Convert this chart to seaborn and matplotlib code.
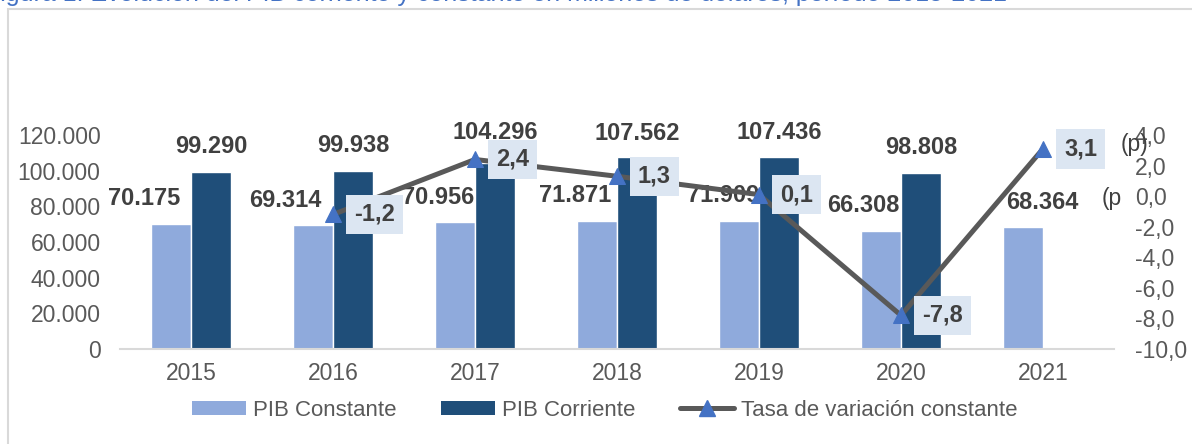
import numpy as np
import pandas as pd
import matplotlib
matplotlib.use("Agg")
import matplotlib.pyplot as plt
import seaborn as sns
from matplotlib.lines import Line2D
from matplotlib.patches import Patch, Rectangle
from matplotlib.ticker import FuncFormatter, MultipleLocator

# datos (millones de dólares / %)
years = ["2015", "2016", "2017", "2018", "2019", "2020", "2021"]
pib_constante = [70175, 69314, 70956, 71871, 71909, 66308, 68364]
pib_corriente = [99290, 99938, 104296, 107562, 107436, 98808, np.nan]
tasa = [np.nan, -1.2, 2.4, 1.3, 0.1, -7.8, 3.1]

C_CONST = "#8faadc"
C_CORR = "#1f4e79"
C_LINE = "#595959"
C_MARK = "#4472c4"
C_TXT = "#404040"
C_TICK = "#595959"

sns.set_theme(style="white")
plt.rcParams["font.family"] = ["Liberation Sans", "DejaVu Sans"]

df = pd.DataFrame({
    "year": years * 2,
    "valor": pib_constante + pib_corriente,
    "serie": ["PIB Constante"] * len(years) + ["PIB Corriente"] * len(years),
})

fig = plt.figure(figsize=(11.92, 4.44), dpi=100)
ax = fig.add_axes([120 / 1192, 1 - 349 / 444, (1114 - 120) / 1192, (349 - 135) / 444])

sns.barplot(data=df, x="year", y="valor", hue="serie",
            palette={"PIB Constante": C_CONST, "PIB Corriente": C_CORR},
            width=0.57, gap=0, saturation=1, legend=False, ax=ax)

ax.set_ylim(0, 120000)
ax.set_xlim(-0.5, len(years) - 0.5)
ax.yaxis.set_major_locator(MultipleLocator(20000))
ax.yaxis.set_major_formatter(FuncFormatter(lambda v, p: f"{int(v):,}".replace(",", ".")))
ax.set_xlabel("")
ax.set_ylabel("")
for s in ["top", "right", "left"]:
    ax.spines[s].set_visible(False)
ax.spines["bottom"].set_color("#d9d9d9")
ax.spines["bottom"].set_linewidth(1.5)
ax.tick_params(axis="y", length=0, pad=14, labelsize=16.5, labelcolor=C_TICK)
ax.tick_params(axis="x", length=0, pad=9, labelsize=16.5, labelcolor=C_TICK)

# etiquetas de barras (desplazamientos en píxeles, como en el original)
const_dx = [-27, -27, -17, -22, -16, -17, 20]
corr_dy = [25, 25, 31, 24, 25, 25, 25]
for i, bar in enumerate(ax.containers[0]):
    h = bar.get_height()
    ax.annotate(f"{int(h):,}".replace(",", "."),
                (bar.get_x() + bar.get_width() / 2, h),
                xytext=(const_dx[i], 25), textcoords="offset pixels",
                ha="center", va="center", fontsize=17, fontweight="bold", color=C_TXT)
for i, bar in enumerate(ax.containers[1]):
    h = bar.get_height()
    if np.isnan(h):
        continue
    ax.annotate(f"{int(h):,}".replace(",", "."),
                (bar.get_x() + bar.get_width() / 2, h),
                xytext=(0, corr_dy[i]), textcoords="offset pixels",
                ha="center", va="center", fontsize=17, fontweight="bold", color=C_TXT)

last = ax.containers[0][-1]
ax.annotate("(p", (last.get_x() + last.get_width() / 2, last.get_height()),
            xytext=(79, 29), textcoords="offset pixels", ha="left", va="center",
            fontsize=16.5, color=C_TXT, annotation_clip=False)

# eje secundario: tasa
ax2 = ax.twinx()
pos = list(range(len(years)))
sns.lineplot(x=pos, y=tasa, ax=ax2, color=C_LINE, linewidth=3.6,
             marker="^", markersize=12, markerfacecolor=C_MARK,
             markeredgecolor=C_MARK, legend=False)
ax2.set_ylim(-10, 4)
ax2.yaxis.set_major_locator(MultipleLocator(2))
ax2.yaxis.set_major_formatter(FuncFormatter(lambda v, p: f"{v:.1f}".replace(".", ",")))
for s in ["top", "right", "left", "bottom"]:
    ax2.spines[s].set_visible(False)
ax2.tick_params(axis="y", length=0, pad=15, labelsize=16.5, labelcolor=C_TICK)
ax2.set_xlim(-0.5, len(years) - 0.5)

for x, v in zip(pos, tasa):
    if np.isnan(v):
        continue
    ax2.annotate(f"{v:.1f}".replace(".", ","), (x, v),
                 xytext=(21, 0), textcoords="offset pixels",
                 ha="left", va="center", fontsize=17, fontweight="bold", color=C_TXT,
                 bbox=dict(boxstyle="square,pad=0.35", fc="#dce6f2", ec="none"),
                 annotation_clip=False)
ax2.annotate("(p)", (pos[-1], tasa[-1]), xytext=(78, 4), textcoords="offset pixels",
             ha="left", va="center", fontsize=16.5, color=C_TXT, annotation_clip=False)

# leyenda
handles = [
    Patch(facecolor=C_CONST, edgecolor="none"),
    Patch(facecolor=C_CORR, edgecolor="none"),
    Line2D([0], [0], color=C_LINE, lw=3.6, marker="^", markersize=12,
           markerfacecolor=C_MARK, markeredgecolor=C_MARK),
]
labels = ["PIB Constante", "PIB Corriente", "Tasa de variación constante"]
fig.legend(handles, labels, loc="center", bbox_to_anchor=(605 / 1192, 1 - 410 / 444),
           ncol=3, frameon=False, fontsize=16, handlelength=2.4, handleheight=0.6,
           handletextpad=0.35, columnspacing=2.0, labelcolor=C_TICK)

# título (recortado por el borde superior, como en el original) y marco
fig.text(-0.013, 1 - 1 / 444,
         "Figura 1. Evolución del PIB corriente y constante en millones de dólares, período 2015-2021",
         color=C_MARK, fontsize=18, va="baseline", ha="left")
fig.patches.append(Rectangle((8 / 1192, -0.05), 1.0, 1.05 - 9 / 444, transform=fig.transFigure,
                             fill=False, edgecolor="#d9d9d9", linewidth=1.5))

fig.savefig("out.png", dpi=100)
